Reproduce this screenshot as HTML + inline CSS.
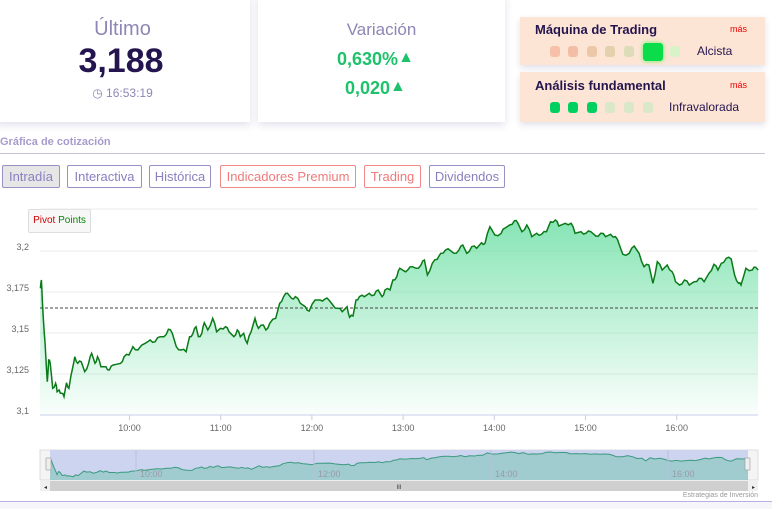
<!DOCTYPE html>
<html><head><meta charset="utf-8"><style>
*{margin:0;padding:0;box-sizing:border-box}
body{width:772px;height:509px;background:#fff;font-family:"Liberation Sans",sans-serif;position:relative;overflow:hidden}
.card{position:absolute;background:#fff;box-shadow:0 3px 8px rgba(60,50,120,.15)}
.t{position:absolute;white-space:nowrap}
.btn{position:absolute;top:165px;height:23px;border:1px solid #9b8fc6;border-radius:2px;font-size:13px;color:#8a7fc0;text-align:center;line-height:21px}
.red{border-color:#f08a8a;color:#f07a7a}
.dot{position:absolute;width:10px;height:11px;border-radius:3px}
.peach{position:absolute;background:#fde5d5;box-shadow:0 3px 6px rgba(60,50,120,.15)}
</style></head><body>
<div class="card" style="left:-5px;top:-5px;width:255px;height:127px"></div>
<div class="card" style="left:258px;top:-5px;width:247px;height:127px"></div>
<div class="t" style="left:0;width:245px;text-align:center;top:18px;font-size:20px;color:#8e86b5">Último</div>
<div class="t" style="left:0;width:242px;text-align:center;top:42px;font-size:34px;font-weight:bold;color:#24154f">3,188</div>
<div class="t" style="left:0;width:245px;text-align:center;top:86px;font-size:12px;color:#8e86b5">&#9719; 16:53:19</div>
<div class="t" style="left:258px;width:247px;text-align:center;top:20px;font-size:17px;color:#8e86b5">Variación</div>
<div class="t" style="left:337px;top:49px;font-size:18px;font-weight:bold;color:#1ec26b">0,630%<span style="font-size:16px;position:relative;top:-3px">▲</span></div>
<div class="t" style="left:345px;top:78px;font-size:18px;font-weight:bold;color:#1ec26b">0,020<span style="font-size:16px;position:relative;top:-3px">▲</span></div>
<div class="peach" style="left:520px;top:17px;width:245px;height:48px"></div>
<div class="peach" style="left:520px;top:72px;width:245px;height:50px"></div>
<div class="t" style="left:535px;top:22px;font-size:13px;font-weight:bold;color:#24154f">Máquina de Trading</div>
<div class="t" style="left:730px;top:24px;font-size:9px;color:#e00">más</div>
<div class="t" style="left:535px;top:78px;font-size:13px;font-weight:bold;color:#24154f">Análisis fundamental</div>
<div class="t" style="left:730px;top:80px;font-size:9px;color:#e00">más</div>
<div class="dot" style="left:550px;top:46px;background:#f8c0a8"></div>
<div class="dot" style="left:568px;top:46px;background:#f3bda6"></div>
<div class="dot" style="left:587px;top:46px;background:#ecc8a8"></div>
<div class="dot" style="left:605px;top:46px;background:#e4d0ac"></div>
<div class="dot" style="left:624px;top:46px;background:#dcdcb8"></div>
<div class="dot" style="left:643px;top:43px;width:20px;height:18px;background:#0adc4a;box-shadow:0 0 5px #6e6"></div>
<div class="dot" style="left:670px;top:46px;background:#d8f3c8"></div>
<div class="t" style="left:697px;top:44px;font-size:12px;color:#24154f">Alcista</div>
<div class="dot" style="left:550px;top:102px;background:#00d060"></div>
<div class="dot" style="left:568px;top:102px;background:#00d060"></div>
<div class="dot" style="left:587px;top:102px;background:#00d060"></div>
<div class="dot" style="left:605px;top:102px;background:#d8e8c8"></div>
<div class="dot" style="left:624px;top:102px;background:#d8e8c8"></div>
<div class="dot" style="left:643px;top:102px;background:#d8e8c8"></div>
<div class="t" style="left:669px;top:100px;font-size:12px;color:#24154f">Infravalorada</div>
<div class="t" style="left:0;top:136px;font-size:11px;font-weight:bold;color:#a79ccc">Gráfica de cotización</div>
<div style="position:absolute;left:0;top:153px;width:765px;height:1px;background:#c8c4d8"></div>
<div class="btn" style="left:2px;width:58px;background:#e6e6e6">Intradía</div>
<div class="btn" style="left:67px;width:75px">Interactiva</div>
<div class="btn" style="left:149px;width:62px">Histórica</div>
<div class="btn red" style="left:220px;width:136px">Indicadores Premium</div>
<div class="btn red" style="left:364px;width:57px">Trading</div>
<div class="btn" style="left:429px;width:76px">Dividendos</div>
<div style="position:absolute;left:28px;top:209px;width:63px;height:24px;background:#f7f7f7;border:1px solid #ddd;border-radius:2px;font-size:10px;line-height:22px;text-align:center"><span style="color:#c00">Pivot</span> <span style="color:#080">Points</span></div>
<svg id="s" width="772" height="509" style="position:absolute;left:0;top:0"></svg>
<div style="position:absolute;left:0;top:501px;width:772px;height:1px;background:#b8b0e0"></div>
<div style="position:absolute;left:0;top:502px;width:772px;height:7px;background:#f6f6fa"></div>
<script>
var z=[[82,265],[84,240],[86,300],[90,400],[93,470],[96,545],[99,480],[102,490],[107,565],[113,550],[116,575],[120,570],[125,580],[130,590],[135,548],[140,565],[148,500],[152,470],[158,490],[165,485],[172,515],[180,490],[186,460],[193,490],[198,470],[205,500],[215,500],[222,510],[230,495],[245,490],[252,470],[262,465],[270,440],[280,450],[295,430],[305,420],[315,425],[325,410],[333,410],[342,388],[350,400],[358,440],[368,450],[378,455],[385,410],[392,400],[398,380],[403,410],[410,400],[415,368],[422,390],[432,355],[440,395],[448,385],[458,380],[465,395],[475,410],[482,390],[488,410],[495,400],[502,430],[510,395],[518,355],[525,385],[535,375],[540,390],[548,370],[560,355],[568,310],[576,290],[584,280],[592,295],[600,290],[610,310],[620,320],[628,333],[640,300],[650,300],[660,297],[668,300],[676,315],[686,325],[695,335],[705,320],[710,352],[717,348],[723,300],[730,290],[740,290],[750,280],[760,285],[768,270],[776,290],[782,270],[792,270],[798,240],[806,230],[812,205],[820,212],[828,210],[838,200],[845,205],[855,195],[862,180],[868,225],[878,190],[888,178],[895,160],[905,150],[915,152],[922,160],[932,150],[940,135],[948,160],[958,140],[968,145],[978,128],[985,130],[995,80],[1005,105],[1018,100],[1025,85],[1035,75],[1045,62],[1052,70],[1060,95],[1070,75],[1080,110],[1090,100],[1100,103],[1110,95],[1118,65],[1128,60],[1135,78],[1148,70],[1160,70],[1168,100],[1180,95],[1190,100],[1200,95],[1210,108],[1220,100],[1230,110],[1240,103],[1250,110],[1258,135],[1265,163],[1278,160],[1288,138],[1298,160],[1308,200],[1318,195],[1326,250],[1335,185],[1345,210],[1355,195],[1365,215],[1372,245],[1380,255],[1390,240],[1400,255],[1410,245],[1420,235],[1430,245],[1440,220],[1450,193],[1458,210],[1465,190],[1475,175],[1485,177],[1492,225],[1500,250],[1505,255],[1515,205],[1528,210],[1535,202],[1540,210]];
var p=z.map(a=>[a[0]/2.031,200+a[1]/3]);
var jig=[];for(var i=0;i<p.length-1;i++){jig.push(p[i]);var mx=(p[i][0]+p[i+1][0])/2,my=(p[i][1]+p[i+1][1])/2+((i%3)-1)*1.5;jig.push([mx,my]);}jig.push(p[p.length-1]);
var pts=jig.map(a=>a[0].toFixed(1)+','+a[1].toFixed(1)).join(' ');
var nav=p.map(a=>[50+(a[0]-40)*(698/718),452+(a[1]-220)*0.14]);
var npts=nav.map(a=>a[0].toFixed(1)+','+a[1].toFixed(1)).join(' ');
var h='<defs><linearGradient id="g" x1="0" y1="0" x2="0" y2="1"><stop offset="0" stop-color="#5fdc9c" stop-opacity=".75"/><stop offset="1" stop-color="#5fdc9c" stop-opacity=".03"/></linearGradient></defs>';
[209,251,292,333,374].forEach(y=>h+='<line x1="40" x2="758" y1="'+y+'" y2="'+y+'" stroke="#ebebeb"/>');
h+='<line x1="40" x2="758" y1="415" y2="415" stroke="#c8d0e8"/>';
[['3,2',250],['3,175',291],['3,15',332],['3,125',373],['3,1',414]].forEach(a=>h+='<text x="29" y="'+a[1]+'" font-size="9" fill="#666" text-anchor="end" font-family="Liberation Sans">'+a[0]+'</text>');
['10:00','11:00','12:00','13:00','14:00','15:00','16:00'].forEach((t,i)=>{var x=129.5+91.2*i;h+='<line x1="'+x+'" x2="'+x+'" y1="415" y2="420" stroke="#ccd"/><text x="'+x+'" y="431" font-size="9" fill="#666" text-anchor="middle" font-family="Liberation Sans">'+t+'</text>';});
h+='<polygon points="'+pts+' 758,415 40,415" fill="url(#g)"/>';
h+='<line x1="40" x2="758" y1="308" y2="308" stroke="#444" stroke-dasharray="3,2"/>';
h+='<polyline points="'+pts+'" fill="none" stroke="#0a7a18" stroke-width="1.5"/>';
h+='<rect x="40" y="450" width="718" height="30" fill="#f4f4f4" stroke="#ddd"/><rect x="50" y="450" width="698" height="30" fill="#cdd4ef"/>';
h+='<polygon points="'+npts+' 748,480 50,480" fill="#6cc4a8" fill-opacity=".45"/><polyline points="'+npts+'" fill="none" stroke="#3a9a80" stroke-width="1"/>';
[['10:00',140],['12:00',318],['14:00',495],['16:00',672]].forEach(a=>h+='<line x1="'+(a[1]-4)+'" x2="'+(a[1]-4)+'" y1="450" y2="480" stroke="#b8c0dc"/><text x="'+a[1]+'" y="477" font-size="9" fill="#99a" font-family="Liberation Sans">'+a[0]+'</text>');
h+='<rect x="46" y="458" width="5" height="12" fill="#eee" stroke="#999" stroke-width=".6"/><rect x="745" y="458" width="5" height="12" fill="#eee" stroke="#999" stroke-width=".6"/>';
h+='<rect x="40" y="481" width="718" height="10" fill="#f0f0f0"/><rect x="50" y="481" width="698" height="10" fill="#cfcfcf"/>';
h+='<text x="44" y="489" font-size="6" fill="#333">◂</text><text x="752" y="489" font-size="6" fill="#333">▸</text><text x="399" y="489" font-size="6" fill="#333" text-anchor="middle">III</text>';
h+='<text x="758" y="497" font-size="7" fill="#999" text-anchor="end" font-family="Liberation Sans">Estrategias de Inversión</text>';
document.getElementById('s').innerHTML=h;
</script>
</body></html>
